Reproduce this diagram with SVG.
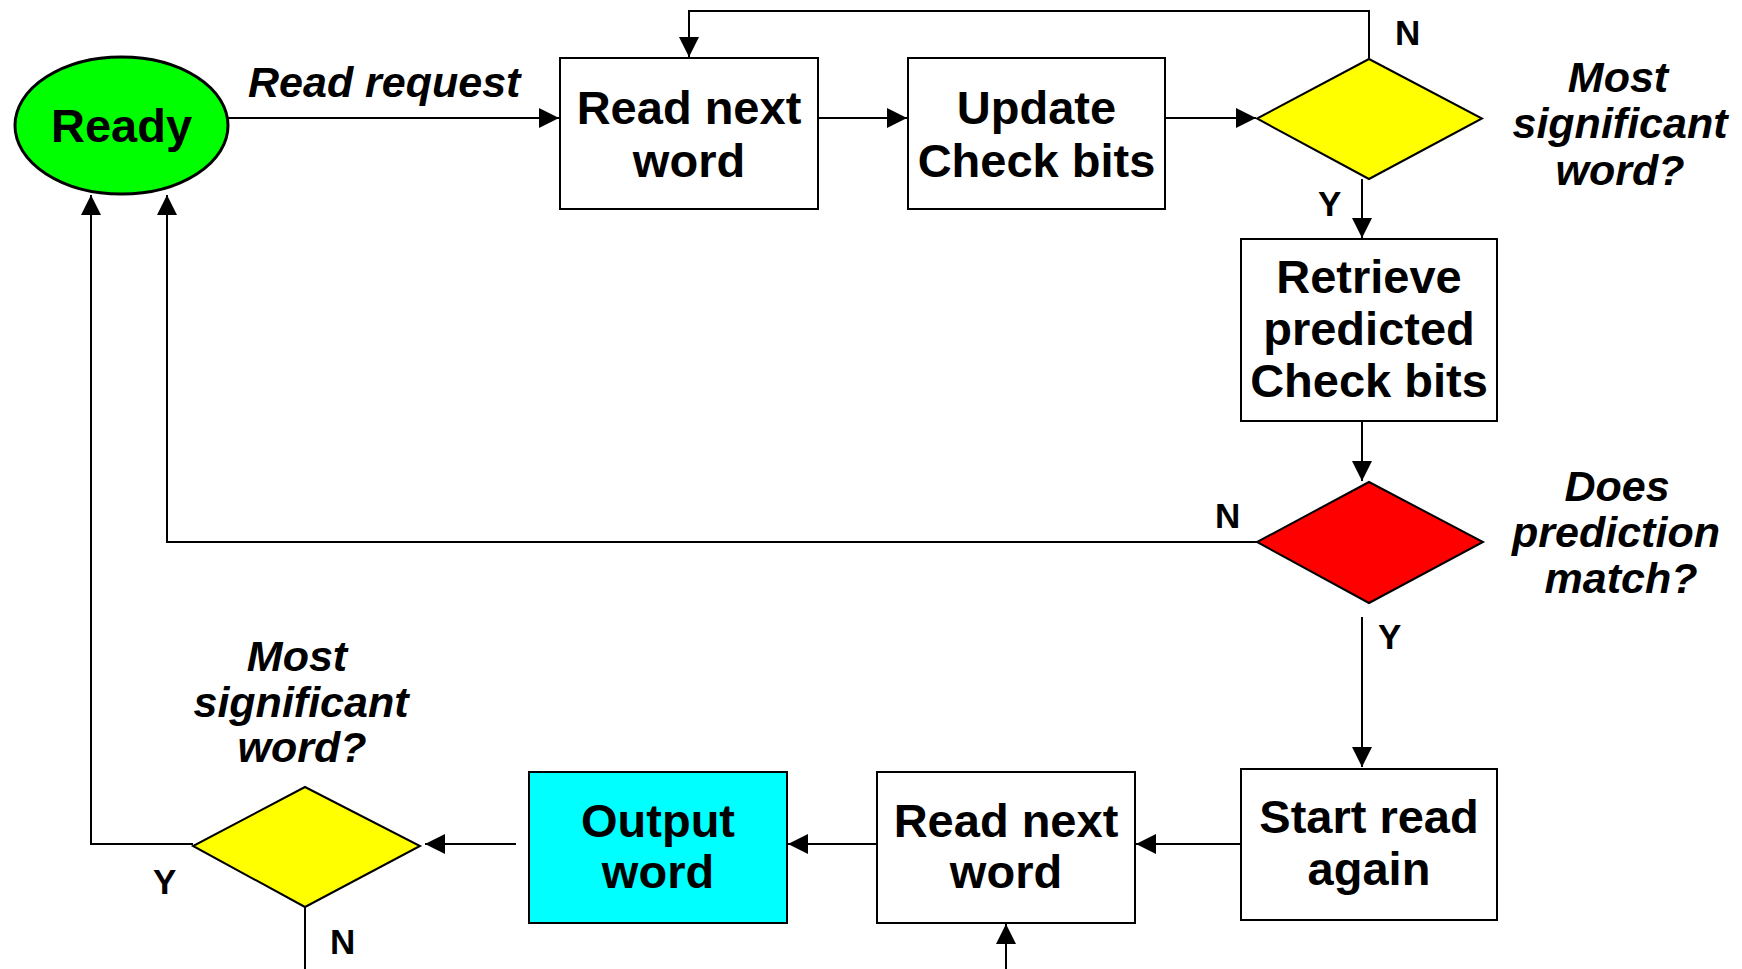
<svg xmlns="http://www.w3.org/2000/svg" width="1742" height="969" viewBox="0 0 1742 969">
  <style>
    .box { fill: #ffffff; stroke: #000000; stroke-width: 2; }
    .dia { stroke: #000000; stroke-width: 2; }
    .wire { fill: none; stroke: #000000; stroke-width: 2; }
    .lbl { font-family: "Liberation Sans", Arial, sans-serif; font-weight: bold; font-size: 47px; text-anchor: middle; fill: #000000; }
    .q { font-family: "Liberation Sans", Arial, sans-serif; font-weight: bold; font-style: italic; font-size: 43px; text-anchor: middle; fill: #000000; }
    .yn { font-family: "Liberation Sans", Arial, sans-serif; font-weight: bold; font-size: 35px; fill: #000000; }
  </style>
  <defs>
    <marker id="arrow" markerUnits="userSpaceOnUse" markerWidth="20" markerHeight="20" refX="20" refY="10" orient="auto">
      <path d="M0,0 L20,10 L0,20 Z" fill="#000000"/>
    </marker>
  </defs>
  <rect width="1742" height="969" fill="#ffffff"/>

  <!-- connectors -->
  <g id="connectors">
    <line class="wire" x1="228" y1="118" x2="559" y2="118" marker-end="url(#arrow)"/>
    <line class="wire" x1="818" y1="118" x2="907" y2="118" marker-end="url(#arrow)"/>
    <line class="wire" x1="1165" y1="118" x2="1256" y2="118" marker-end="url(#arrow)"/>
    <polyline class="wire" points="1369,58 1369,11 689,11 689,57" marker-end="url(#arrow)"/>
    <line class="wire" x1="1362" y1="179" x2="1362" y2="238" marker-end="url(#arrow)"/>
    <line class="wire" x1="1362" y1="421" x2="1362" y2="481" marker-end="url(#arrow)"/>
    <polyline class="wire" points="1257,542 167,542 167,195" marker-end="url(#arrow)"/>
    <line class="wire" x1="1362" y1="617" x2="1362" y2="767" marker-end="url(#arrow)"/>
    <line class="wire" x1="1241" y1="844" x2="1136" y2="844" marker-end="url(#arrow)"/>
    <line class="wire" x1="877" y1="844" x2="788" y2="844" marker-end="url(#arrow)"/>
    <line class="wire" x1="516" y1="844" x2="425" y2="844" marker-end="url(#arrow)"/>
    <polyline class="wire" points="193,844 91,844 91,195" marker-end="url(#arrow)"/>
    <line class="wire" x1="305" y1="907" x2="305" y2="969"/>
    <line class="wire" x1="1006" y1="969" x2="1006" y2="924" marker-end="url(#arrow)"/>
    <text class="q" x="248" y="97" style="text-anchor:start">Read request</text>
    <text class="yn" x="1395" y="45">N</text>
    <text class="yn" x="1318" y="216">Y</text>
    <text class="yn" x="1215" y="528">N</text>
    <text class="yn" x="1378" y="649">Y</text>
    <text class="yn" x="153" y="894">Y</text>
    <text class="yn" x="330" y="954">N</text>
  </g>

  <g id="ready">
    <ellipse cx="121.5" cy="125.5" rx="106.5" ry="68.5" fill="#00ff00" stroke="#000000" stroke-width="3"/>
    <text class="lbl" x="121.5" y="142">Ready</text>
  </g>

  <g id="read-next-top">
    <rect class="box" x="560" y="58" width="258" height="151"/>
    <text class="lbl" x="689" y="124">Read next</text>
    <text class="lbl" x="689" y="177">word</text>
  </g>

  <g id="update-check-bits">
    <rect class="box" x="908" y="58" width="257" height="151"/>
    <text class="lbl" x="1036.5" y="124">Update</text>
    <text class="lbl" x="1036.5" y="177">Check bits</text>
  </g>

  <g id="msw-top">
    <polygon class="dia" fill="#ffff00" points="1369,59 1482,118.5 1369,179 1257,118.5"/>
    <text class="q" x="1618" y="92">Most</text>
    <text class="q" x="1620" y="138">significant</text>
    <text class="q" x="1620" y="185">word?</text>
  </g>

  <g id="retrieve">
    <rect class="box" x="1241" y="239" width="256" height="182"/>
    <text class="lbl" x="1369" y="293">Retrieve</text>
    <text class="lbl" x="1369" y="345">predicted</text>
    <text class="lbl" x="1369" y="397">Check bits</text>
  </g>

  <g id="prediction-match">
    <polygon class="dia" fill="#ff0000" points="1369,482 1483,542 1369,603 1257,542"/>
    <text class="q" x="1617" y="501">Does</text>
    <text class="q" x="1616" y="547">prediction</text>
    <text class="q" x="1621" y="593">match?</text>
  </g>

  <g id="start-read-again">
    <rect class="box" x="1241" y="769" width="256" height="151"/>
    <text class="lbl" x="1369" y="833">Start read</text>
    <text class="lbl" x="1369" y="885">again</text>
  </g>

  <g id="read-next-bottom">
    <rect class="box" x="877" y="772" width="258" height="151"/>
    <text class="lbl" x="1006" y="837">Read next</text>
    <text class="lbl" x="1006" y="888">word</text>
  </g>

  <g id="output-word">
    <rect class="box" x="529" y="772" width="258" height="151" style="fill:#00ffff"/>
    <text class="lbl" x="658" y="837">Output</text>
    <text class="lbl" x="658" y="888">word</text>
  </g>

  <g id="msw-bottom">
    <polygon class="dia" fill="#ffff00" points="305,787 420,846 305,907 193,846"/>
    <text class="q" x="297" y="671">Most</text>
    <text class="q" x="301" y="717">significant</text>
    <text class="q" x="302" y="762">word?</text>
  </g>
</svg>
